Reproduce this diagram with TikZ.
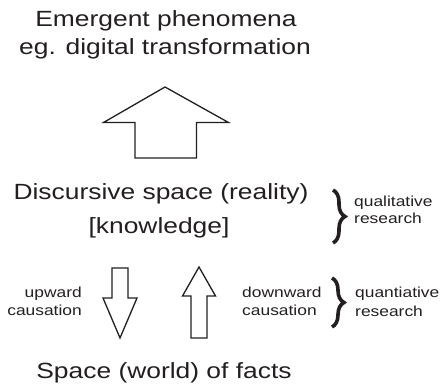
\documentclass[tikz,border=0pt]{standalone}
\usepackage{fontspec}
\setmainfont{Liberation Sans}[FakeStretch=1.2]
\usetikzlibrary{decorations.pathreplacing}
\definecolor{ink}{HTML}{231F20}
\tikzset{
  big/.style={font=\fontsize{22}{26}\selectfont, text=ink, inner sep=0pt, anchor=base},
  small/.style={font=\fontsize{14.5}{17}\selectfont, text=ink, inner sep=0pt},
  blockarrow/.style={draw=ink, line width=1.3pt, line join=miter, fill=white},
  bracestyle/.style={draw=ink, line width=3.6pt, decorate, decoration={brace, amplitude=12pt}},
}
\begin{document}
\begin{tikzpicture}[x=1pt, y=-1pt]
\useasboundingbox (0,0) rectangle (441,387);
% main texts
\node[big] (title1) at (166,27) {Emergent phenomena};
\node[big] (title2) at (165,55) {eg. digital transformation};
\node[big] (disc1) at (161,200) {Discursive space (reality)};
\node[big] (disc2) at (159,233.5) {[knowledge]};
\node[big] (facts) at (164,378) {Space (world) of facts};
% side texts
\node[small, anchor=base east] (up1) at (82,297) {upward};
\node[small, anchor=base east] (up2) at (82,315.5) {causation};
\node[small, anchor=base west] (down1) at (242,297) {downward};
\node[small, anchor=base west] (down2) at (242,315.5) {causation};
\node[small, anchor=base west] (qual1) at (354,206.5) {qualitative};
\node[small, anchor=base west] (qual2) at (354,223.5) {research};
\node[small, anchor=base west] (quan1) at (355,297) {quantiative};
\node[small, anchor=base west] (quan2) at (355,316.5) {research};
% big up arrow
\draw[blockarrow] (165,87) -- (228.5,122.5) -- (196.5,122.5) -- (196.5,158) -- (135,158) -- (135,122.5) -- (103.5,122.5) -- cycle;
% small down arrow
\draw[blockarrow] (112,268) -- (128,268) -- (128,298) -- (137,298) -- (120,338) -- (103,298) -- (112,298) -- cycle;
% small up arrow
\draw[blockarrow] (199,267) -- (215.5,296) -- (207,296) -- (207,338) -- (191,338) -- (191,296) -- (182.5,296) -- cycle;
% braces
\coordinate (b1t) at (333,190);
\coordinate (b1b) at (333,243);
\coordinate (b2t) at (332,278);
\coordinate (b2b) at (332,327);
\draw[bracestyle] (b1t) -- (b1b);
\draw[bracestyle] (b2t) -- (b2b);
\end{tikzpicture}
\end{document}
